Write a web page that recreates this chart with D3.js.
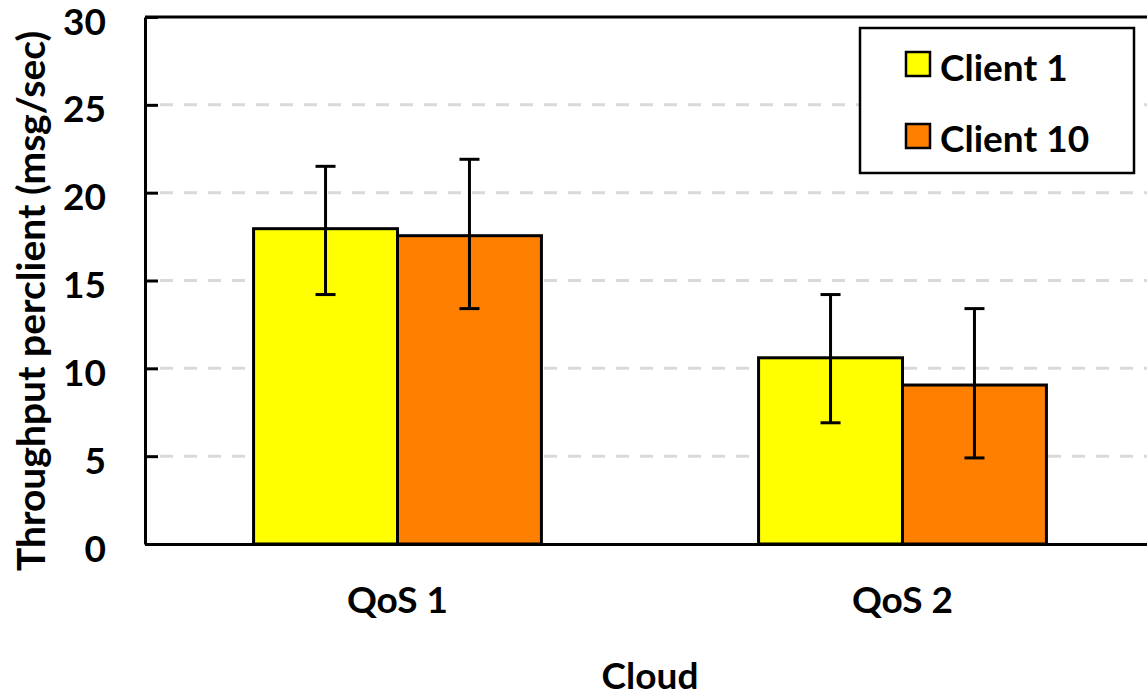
<!DOCTYPE html>
<html>
<head>
<meta charset="utf-8">
<script src="https://d3js.org/d3.v7.min.js"></script>
<style>
  body { margin: 0; background: white; }
  text { font-family: Lato, "Open Sans", sans-serif; font-weight: bold; fill: black; }
</style>
</head>
<body>
<div id="chart"></div>
<script>
var categories = ["QoS 1", "QoS 2"];
var seriesNames = ["Client 1", "Client 10"];
var client1 = [17.95, 10.6];
var client10 = [17.55, 9.05];
var client1Low = [14.2, 6.9];
var client1High = [21.5, 14.2];
var client10Low = [13.4, 4.9];
var client10High = [21.9, 13.4];
var yTicks = [0, 5, 10, 15, 20, 25, 30];
var colors = ["#FFFF00", "#FF7F00"];

function main() {

    var margin = {top: 17, left: 145},
        width = 1010,
        height = 527;

    var svg = d3.select("#chart").append("svg")
        .attr("width", 1147)
        .attr("height", 697)
        .append("g")
        .attr("transform", "translate(" + margin.left + "," + margin.top + ")");

    var xScale = d3.scaleBand().domain(categories).range([0, width])
        .paddingInner(0.43).paddingOuter(0.215);
    var xInner = d3.scaleBand().domain(seriesNames).range([0, xScale.bandwidth()]);
    var yScale = d3.scaleLinear().domain([0, 30]).range([height, 0]);

    var data = [];
    categories.forEach(function(c, i) {
        data.push({cat: c, name: seriesNames[0], value: client1[i], lo: client1Low[i], hi: client1High[i], color: colors[0]});
        data.push({cat: c, name: seriesNames[1], value: client10[i], lo: client10Low[i], hi: client10High[i], color: colors[1]});
    });

    // dashed gridlines
    svg.selectAll(".grid")
        .data(yTicks.filter(function(d) { return d > 0 && d < 30; }))
        .enter().append("line")
        .attr("x1", 15)
        .attr("x2", width)
        .attr("y1", function(d) { return yScale(d); })
        .attr("y2", function(d) { return yScale(d); })
        .attr("stroke", "#d9d9d9")
        .attr("stroke-width", 3)
        .attr("stroke-dasharray", "13,11");

    // top border
    svg.append("line")
        .attr("x1", 0).attr("x2", width)
        .attr("y1", 0).attr("y2", 0)
        .attr("stroke", "black")
        .attr("stroke-width", 3);

    // bars
    svg.selectAll(".bar")
        .data(data)
        .enter().append("rect")
        .attr("x", function(d) { return xScale(d.cat) + xInner(d.name); })
        .attr("y", function(d) { return yScale(d.value); })
        .attr("width", xInner.bandwidth())
        .attr("height", function(d) { return height - yScale(d.value); })
        .attr("fill", function(d) { return d.color; })
        .attr("stroke", "black")
        .attr("stroke-width", 3);

    // error bars
    var err = svg.selectAll(".err")
        .data(data)
        .enter().append("g")
        .attr("transform", function(d) { return "translate(" + (xScale(d.cat) + xInner(d.name) + xInner.bandwidth() / 2) + ",0)"; });
    err.append("line")
        .attr("y1", function(d) { return yScale(d.lo); })
        .attr("y2", function(d) { return yScale(d.hi); })
        .attr("stroke", "black").attr("stroke-width", 3);
    err.append("line")
        .attr("x1", -10).attr("x2", 10)
        .attr("y1", function(d) { return yScale(d.hi); })
        .attr("y2", function(d) { return yScale(d.hi); })
        .attr("stroke", "black").attr("stroke-width", 3);
    err.append("line")
        .attr("x1", -10).attr("x2", 10)
        .attr("y1", function(d) { return yScale(d.lo); })
        .attr("y2", function(d) { return yScale(d.lo); })
        .attr("stroke", "black").attr("stroke-width", 3);

    // axes
    var yAxis = svg.append("g")
        .call(d3.axisLeft(yScale).tickValues(yTicks).tickSizeInner(-13).tickSizeOuter(0));
    yAxis.selectAll("path, line").attr("stroke", "black").attr("stroke-width", 3);
    yAxis.selectAll("text")
        .attr("x", -39)
        .attr("dy", "0.46em")
        .style("font-size", "37px");

    var xAxis = svg.append("g")
        .attr("transform", "translate(0," + height + ")")
        .call(d3.axisBottom(xScale).tickSize(0).tickSizeOuter(0));
    xAxis.select("path").attr("stroke", "black").attr("stroke-width", 3);
    xAxis.selectAll("text")
        .attr("y", 69)
        .attr("dy", 0)
        .style("font-size", "37px");

    svg.append("text")
        .attr("text-anchor", "middle")
        .attr("x", 505)
        .attr("y", 672)
        .style("font-size", "37px")
        .text("Cloud");

    svg.append("text")
        .attr("text-anchor", "middle")
        .attr("transform", "translate(" + (45 - margin.left) + "," + (301 - margin.top) + ") rotate(-90)")
        .style("font-size", "39px")
        .text("Throughput perclient (msg/sec)");

    // legend
    var legend = svg.append("g")
        .attr("transform", "translate(" + (860 - margin.left) + "," + (28 - margin.top) + ")");
    legend.append("rect")
        .attr("width", 274)
        .attr("height", 145)
        .attr("fill", "white")
        .attr("stroke", "black")
        .attr("stroke-width", 2.5);
    seriesNames.forEach(function(s, i) {
        legend.append("rect")
            .attr("x", 46)
            .attr("y", 24 + i * 72)
            .attr("width", 24)
            .attr("height", 24)
            .attr("fill", colors[i])
            .attr("stroke", "black")
            .attr("stroke-width", 2.5);
        legend.append("text")
            .attr("x", 80)
            .attr("y", 53 + i * 71)
            .style("font-size", "37px")
            .text(s);
    });
}
main();
</script>
</body>
</html>
